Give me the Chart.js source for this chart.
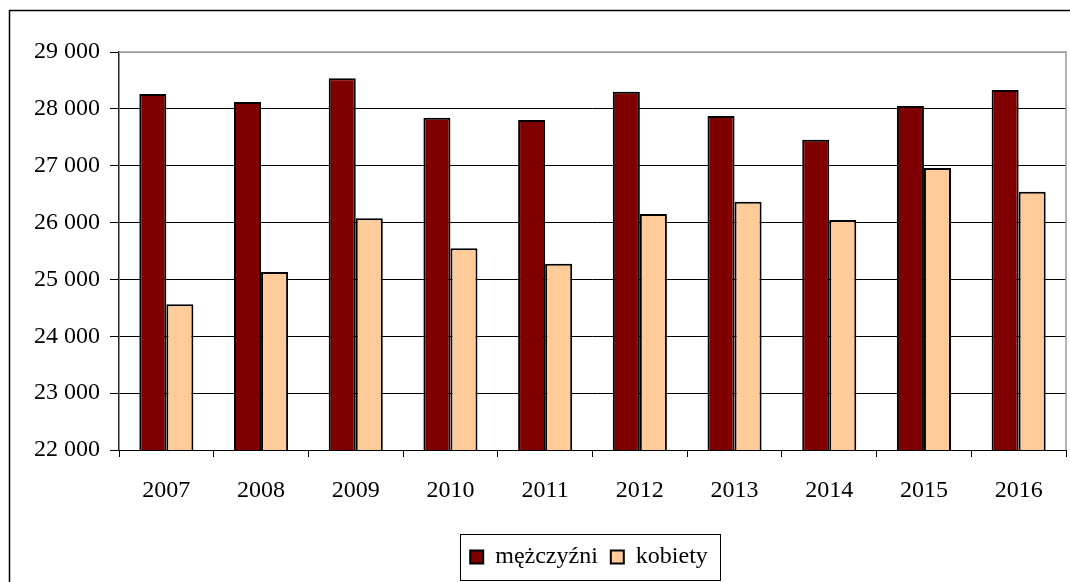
<!DOCTYPE html>
<html>
<head>
<meta charset="utf-8">
<script src="https://cdn.jsdelivr.net/npm/chart.js@4"></script>
<style>
    html, body { margin: 0; padding: 0; background: #fff; }
    #wrap { position: relative; width: 1070px; height: 582px; }
</style>
</head>
<body>
<div id="wrap"><canvas id="chart"></canvas></div>
<script>
// Data
const years = ['2007', '2008', '2009', '2010', '2011', '2012', '2013', '2014', '2015', '2016'];
const men = [28260, 28120, 28540, 27845, 27805, 28300, 27875, 27455, 28050, 28330];
const women = [24565, 25130, 26075, 25550, 25275, 26150, 26365, 26045, 26960, 26540];

const FONT = "'Liberation Serif', 'Times New Roman', serif";
const LEGEND_SHIFT = 56; // legend sits centred under the plot, not the page

// Formats 29000 as "29 000"
function formatThousands(v) {
    return String(v).replace(/\B(?=(\d{3})+(?!\d))/g, ' ');
}

/**
 * Draws the outer chart frame, the grey plot border and a box round the legend
 */
const framePlugin = {
    id: 'frames',
    afterLayout(chart) {
        if (chart.legend) {
            chart.legend.left += LEGEND_SHIFT;
            chart.legend.right += LEGEND_SHIFT;
        }
    },
    beforeDraw(chart) {
        const c = chart.ctx;
        c.save();
        c.strokeStyle = '#000';
        c.lineWidth = 1.5;
        c.strokeRect(9.5, 10.5, 1080, 600);
        c.restore();
    },
    beforeDatasetsDraw(chart) {
        const { ctx: c, chartArea: a } = chart;
        c.save();
        c.strokeStyle = '#9a9a9a';
        c.lineWidth = 1.5;
        c.beginPath();
        c.moveTo(a.left, a.top);
        c.lineTo(a.right, a.top);
        c.lineTo(a.right, a.bottom);
        c.stroke();
        c.restore();
    },
    afterDraw(chart) {
        const boxes = chart.legend && chart.legend.legendHitBoxes;
        if (!boxes || !boxes.length) return;
        const first = boxes[0];
        const last = boxes[boxes.length - 1];
        const mid = first.top + first.height / 2;
        const c = chart.ctx;
        c.save();
        c.strokeStyle = '#000';
        c.lineWidth = 1;
        c.strokeRect(Math.round(first.left - 10) + 0.5, Math.round(mid - 23) + 0.5,
            Math.round(last.left + last.width - first.left + 22), 46);
        c.restore();
    }
};

new Chart(document.getElementById('chart'), {
    type: 'bar',
    data: {
        labels: years,
        datasets: [
            {
                label: 'mężczyźni',
                data: men,
                backgroundColor: '#800000',
                borderColor: '#000',
                borderWidth: 2,
                categoryPercentage: 0.571,
                barPercentage: 1.0
            },
            {
                label: 'kobiety',
                data: women,
                backgroundColor: '#ffcc99',
                borderColor: '#000',
                borderWidth: 2,
                categoryPercentage: 0.571,
                barPercentage: 1.0
            }
        ]
    },
    options: {
        responsive: true,
        maintainAspectRatio: false,
        animation: false,
        layout: {
            padding: { left: 0, right: 4, top: 52, bottom: 3 }
        },
        plugins: {
            legend: {
                position: 'bottom',
                labels: {
                    color: '#000',
                    font: { family: FONT, size: 24 },
                    boxWidth: 13,
                    boxHeight: 13,
                    padding: 13
                }
            },
            tooltip: { enabled: false }
        },
        scales: {
            x: {
                grid: {
                    drawOnChartArea: false,
                    drawTicks: true,
                    tickLength: 7,
                    tickColor: '#000'
                },
                border: { color: '#000', width: 1 },
                ticks: {
                    color: '#000',
                    font: { family: FONT, size: 24 },
                    padding: 19,
                    maxRotation: 0
                },
                afterFit(axis) { axis.height = 82; }
            },
            y: {
                min: 22000,
                max: 29000,
                grid: {
                    color: (ctx) => (ctx.tick && ctx.tick.value === 29000 ? '#9a9a9a' : '#000'),
                    tickColor: '#000',
                    tickLength: 9,
                    lineWidth: 1
                },
                border: { color: '#222', width: 1.5 },
                ticks: {
                    stepSize: 1000,
                    color: '#000',
                    font: { family: FONT, size: 24 },
                    padding: 10,
                    callback: (value) => formatThousands(value)
                },
                afterFit(axis) { axis.width = 119; }
            }
        }
    },
    plugins: [framePlugin]
});
</script>
</body>
</html>
